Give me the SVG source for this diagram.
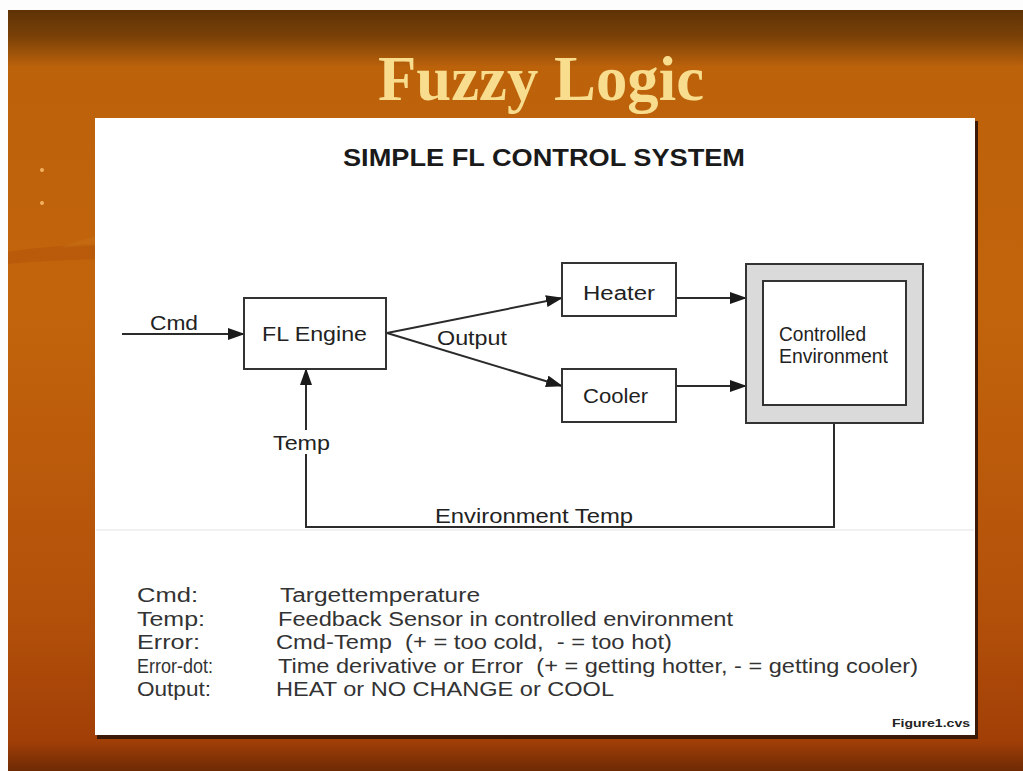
<svg xmlns="http://www.w3.org/2000/svg" width="1023" height="771" viewBox="0 0 1023 771">
<defs>
<linearGradient id="bg" x1="0" y1="0" x2="0" y2="1">
<stop offset="0" stop-color="#5e3206"/>
<stop offset="0.035" stop-color="#7a4107"/>
<stop offset="0.075" stop-color="#bc620b"/>
<stop offset="0.4" stop-color="#c2640c"/>
<stop offset="0.8" stop-color="#b2500a"/>
<stop offset="0.96" stop-color="#a23f07"/>
<stop offset="1" stop-color="#6e2a05"/>
</linearGradient>
<marker id="arr" markerWidth="17" markerHeight="12" refX="16" refY="6" orient="auto" markerUnits="userSpaceOnUse">
<path d="M0,0 L17,6 L0,12 Z" fill="#1a1a1a"/>
</marker>
<style>
.ln{fill:none;stroke:#2b2b2b;stroke-width:2}
.box{fill:#fff;stroke:#333;stroke-width:2}
.lbl{font-family:"Liberation Sans",Arial,sans-serif;font-size:20px;fill:#222}
.leg{font-family:"Liberation Sans",Arial,sans-serif;font-size:20px;fill:#333;white-space:pre}
</style>
</defs>
<rect x="0" y="0" width="1023" height="771" fill="#fdfdfd"/>
<rect x="8" y="10" width="1015" height="761" fill="url(#bg)"/>
<path d="M8,252 C80,240 200,242 300,252 L300,266 C200,258 80,256 8,264 Z" fill="#a84a08" opacity="0.35"/>
<path d="M60,248 C110,228 170,220 260,218 L260,238 C180,240 120,244 60,248 Z" fill="#d07a20" opacity="0.25"/>
<circle cx="42" cy="170" r="2" fill="#f2b060"/>
<circle cx="42" cy="203" r="2" fill="#f2b060"/>
<text x="541" y="100" text-anchor="middle" font-family="'Liberation Serif','Times New Roman',serif" font-weight="bold" font-size="64" fill="#f7dd8d" textLength="326" lengthAdjust="spacingAndGlyphs">Fuzzy Logic</text>
<rect x="97" y="121" width="881" height="618" fill="#3a1a06"/>
<rect x="95" y="118" width="880" height="617" fill="#ffffff"/>
<line x1="96" y1="530" x2="974" y2="530" stroke="#ececec" stroke-width="1.5"/>
<text x="544" y="166" text-anchor="middle" font-family="'Liberation Sans',Arial,sans-serif" font-weight="bold" font-size="24" fill="#1a1a1a" textLength="402" lengthAdjust="spacingAndGlyphs">SIMPLE FL CONTROL SYSTEM</text>
<g id="connectors">
<line class="ln" x1="122" y1="334" x2="244" y2="334" marker-end="url(#arr)"/>
<line class="ln" x1="387" y1="333" x2="562" y2="298" marker-end="url(#arr)"/>
<line class="ln" x1="387" y1="333" x2="562" y2="386" marker-end="url(#arr)"/>
<line class="ln" x1="676" y1="298" x2="746" y2="298" marker-end="url(#arr)"/>
<line class="ln" x1="676" y1="386" x2="746" y2="386" marker-end="url(#arr)"/>
<polyline class="ln" points="834,423 834,527 306,527 306,369" marker-end="url(#arr)"/>
<text class="lbl" x="150" y="330" font-size="18" textLength="48" lengthAdjust="spacingAndGlyphs">Cmd</text>
<text class="lbl" x="437" y="345" textLength="70" lengthAdjust="spacingAndGlyphs">Output</text>
<rect x="270" y="430" width="62" height="24" fill="#fff"/>
<text class="lbl" x="273" y="450" textLength="57" lengthAdjust="spacingAndGlyphs">Temp</text>
<text class="lbl" x="435" y="523" textLength="198" lengthAdjust="spacingAndGlyphs">Environment Temp</text>
</g>
<g id="fl-engine">
<rect class="box" x="244" y="298" width="142" height="71"/>
<text class="lbl" x="262" y="341" textLength="105" lengthAdjust="spacingAndGlyphs">FL Engine</text>
</g>
<g id="heater">
<rect class="box" x="562" y="263" width="114" height="53"/>
<text class="lbl" x="583" y="300" textLength="72" lengthAdjust="spacingAndGlyphs">Heater</text>
</g>
<g id="cooler">
<rect class="box" x="562" y="369" width="114" height="53"/>
<text class="lbl" x="583" y="403" textLength="65" lengthAdjust="spacingAndGlyphs">Cooler</text>
</g>
<g id="controlled-environment">
<rect x="746" y="264" width="177" height="159" fill="#dadada" stroke="#333" stroke-width="2"/>
<rect class="box" x="763" y="281" width="143" height="124"/>
<text class="lbl" x="779" y="341" font-size="15" textLength="87" lengthAdjust="spacingAndGlyphs">Controlled</text>
<text class="lbl" x="779" y="363" font-size="15" textLength="109" lengthAdjust="spacingAndGlyphs">Environment</text>
</g>
<g id="legend">
<text class="leg" x="137" y="602" textLength="61" lengthAdjust="spacingAndGlyphs">Cmd:</text>
<text class="leg" x="280" y="602" textLength="200" lengthAdjust="spacingAndGlyphs">Targettemperature</text>
<text class="leg" x="137" y="625.5" textLength="68" lengthAdjust="spacingAndGlyphs">Temp:</text>
<text class="leg" x="278" y="625.5" textLength="455" lengthAdjust="spacingAndGlyphs">Feedback Sensor in controlled environment</text>
<text class="leg" x="137" y="649" textLength="63" lengthAdjust="spacingAndGlyphs">Error:</text>
<text class="leg" x="276" y="649" textLength="396" lengthAdjust="spacingAndGlyphs">Cmd-Temp  (+ = too cold,  - = too hot)</text>
<text class="leg" x="137" y="672.5" textLength="76" lengthAdjust="spacingAndGlyphs">Error-dot:</text>
<text class="leg" x="278" y="672.5" textLength="640" lengthAdjust="spacingAndGlyphs">Time derivative or Error  (+ = getting hotter, - = getting cooler)</text>
<text class="leg" x="137" y="696" textLength="74" lengthAdjust="spacingAndGlyphs">Output:</text>
<text class="leg" x="276" y="696" textLength="338" lengthAdjust="spacingAndGlyphs">HEAT or NO CHANGE or COOL</text>
<text x="892" y="727" font-family="'Liberation Sans',Arial,sans-serif" font-weight="bold" font-size="10" fill="#222" textLength="78" lengthAdjust="spacingAndGlyphs">Figure1.cvs</text>
</g>
</svg>
